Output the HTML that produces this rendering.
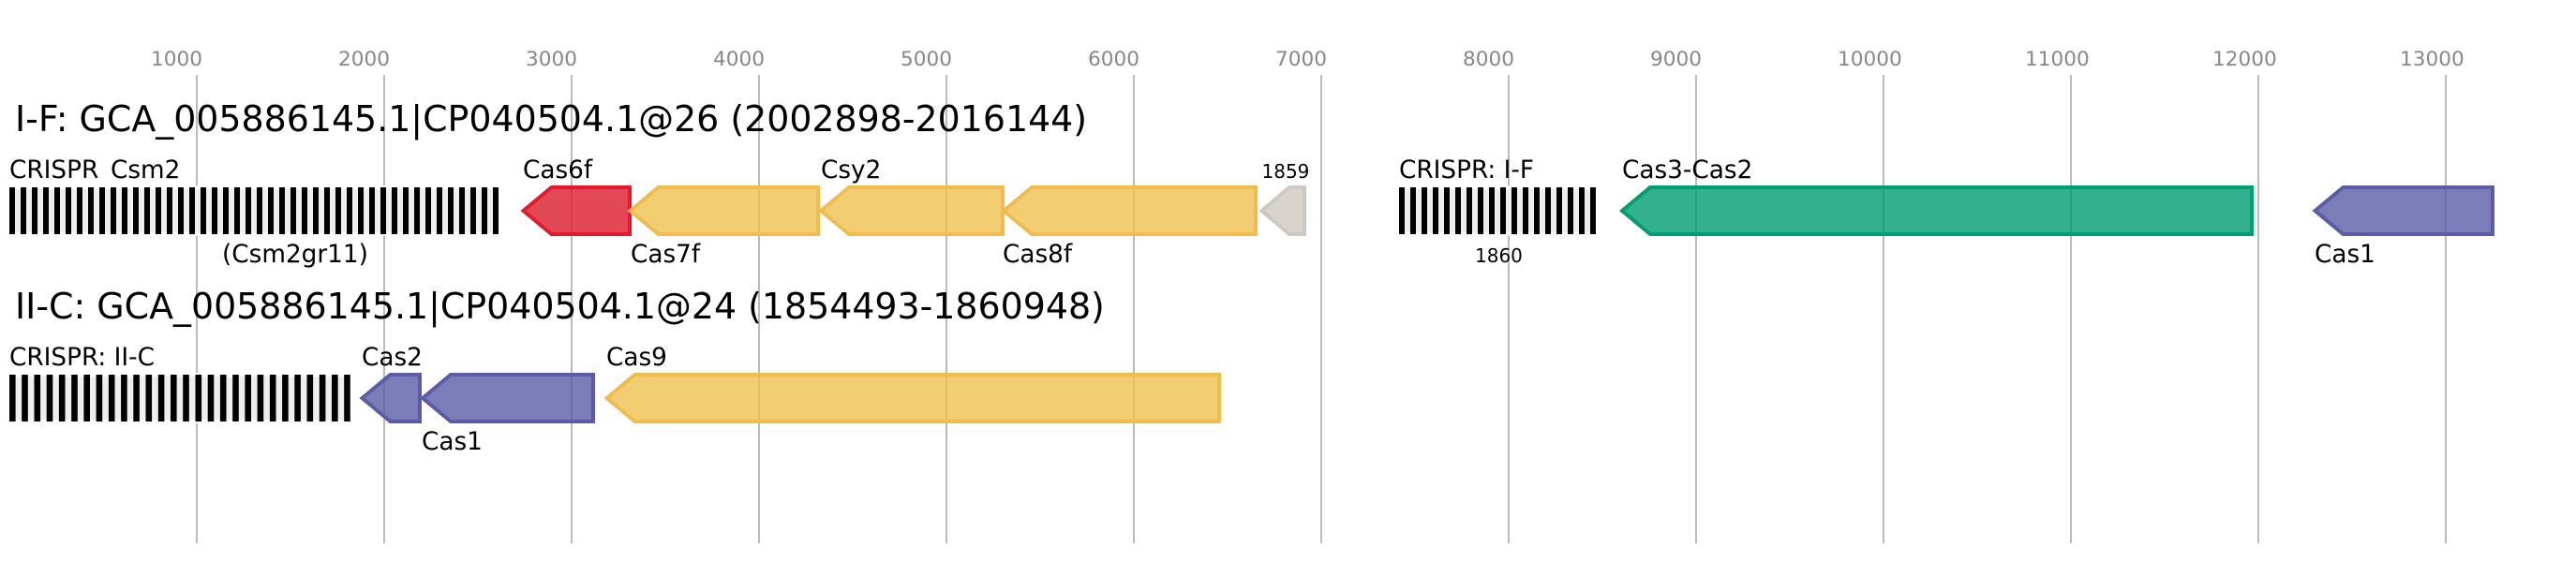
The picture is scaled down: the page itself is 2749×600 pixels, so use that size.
<!DOCTYPE html>
<html><head><meta charset="utf-8"><style>
html,body{margin:0;padding:0;background:#fff}
svg{display:block}
text{font-family:"DejaVu Sans",sans-serif;fill:#000;white-space:pre}
.t{font-size:37.9px}
.l{font-size:26.3px}
.s{font-size:20px}
.a{font-size:21.6px;fill:#888}
.g{stroke-width:4;fill-opacity:.8;stroke-miterlimit:10}
.r{fill:#dc1a2c;stroke:#e41a2c}
.y{fill:#f0c04f;stroke:#f0bd4d}
.n{fill:#009e73;stroke:#009e73}
.b{fill:#5b5ba8;stroke:#5b5ba8}
.e{fill:#d0c8c0;stroke:#d0c8c0}
</style></head><body>
<svg xmlns="http://www.w3.org/2000/svg" width="2749" height="600" viewBox="0 0 2749 600">
<rect width="2749" height="600" fill="#fff"/>
<g stroke="#bbb" stroke-width="2">
<line x1="210" y1="80" x2="210" y2="580"/><line x1="410" y1="80" x2="410" y2="580"/><line x1="610" y1="80" x2="610" y2="580"/><line x1="810" y1="80" x2="810" y2="580"/><line x1="1010" y1="80" x2="1010" y2="580"/><line x1="1210" y1="80" x2="1210" y2="580"/><line x1="1410" y1="80" x2="1410" y2="580"/><line x1="1610" y1="80" x2="1610" y2="580"/><line x1="1810" y1="80" x2="1810" y2="580"/><line x1="2010" y1="80" x2="2010" y2="580"/><line x1="2210" y1="80" x2="2210" y2="580"/><line x1="2410" y1="80" x2="2410" y2="580"/><line x1="2610" y1="80" x2="2610" y2="580"/>
</g>
<g class="a">
<text class="a" x="161" y="70">1000</text><text class="a" x="361" y="70">2000</text><text class="a" x="561" y="70">3000</text><text class="a" x="761" y="70">4000</text><text class="a" x="961" y="70">5000</text><text class="a" x="1161" y="70">6000</text><text class="a" x="1361" y="70">7000</text><text class="a" x="1561" y="70">8000</text><text class="a" x="1761" y="70">9000</text><text class="a" x="1961" y="70">10000</text><text class="a" x="2161" y="70">11000</text><text class="a" x="2361" y="70">12000</text><text class="a" x="2561" y="70">13000</text>
</g>
<text class="t" x="16" y="140">I-F: GCA_005886145.1|CP040504.1@26 (2002898-2016144)</text>
<text class="t" x="16" y="340">II-C: GCA_005886145.1|CP040504.1@24 (1854493-1860948)</text>

<rect x="10" y="200" width="522" height="50" fill="#eee" stroke="#fff" stroke-width="4"/>
<path fill="#000" d="M10 200h6v50h-6zM22 200h6v50h-6zM34 200h6v50h-6zM46 200h6v50h-6zM58 200h6v50h-6zM70 200h6v50h-6zM82 200h6v50h-6zM94 200h6v50h-6zM106 200h6v50h-6zM118 200h6v50h-6zM130 200h6v50h-6zM142 200h6v50h-6zM154 200h6v50h-6zM166 200h6v50h-6zM178 200h6v50h-6zM190 200h6v50h-6zM202 200h6v50h-6zM214 200h6v50h-6zM226 200h6v50h-6zM238 200h6v50h-6zM250 200h6v50h-6zM262 200h6v50h-6zM274 200h6v50h-6zM286 200h6v50h-6zM298 200h6v50h-6zM310 200h6v50h-6zM322 200h6v50h-6zM334 200h6v50h-6zM346 200h6v50h-6zM358 200h6v50h-6zM370 200h6v50h-6zM382 200h6v50h-6zM394 200h6v50h-6zM406 200h6v50h-6zM418 200h6v50h-6zM430 200h6v50h-6zM442 200h6v50h-6zM454 200h6v50h-6zM466 200h6v50h-6zM478 200h6v50h-6zM490 200h6v50h-6zM502 200h6v50h-6zM514 200h6v50h-6zM526 200h6v50h-6z"/>

<rect x="1493" y="200" width="210" height="50" fill="#eee" stroke="#fff" stroke-width="4"/>
<path fill="#000" d="M1493 200h6v50h-6zM1505 200h6v50h-6zM1517 200h6v50h-6zM1529 200h6v50h-6zM1541 200h6v50h-6zM1553 200h6v50h-6zM1565 200h6v50h-6zM1577 200h6v50h-6zM1589 200h6v50h-6zM1601 200h6v50h-6zM1613 200h6v50h-6zM1625 200h6v50h-6zM1637 200h6v50h-6zM1649 200h6v50h-6zM1661 200h6v50h-6zM1673 200h6v50h-6zM1685 200h6v50h-6zM1697 200h6v50h-6z"/>

<rect x="10" y="400" width="364" height="50" fill="#eee" stroke="#fff" stroke-width="4"/>
<path fill="#000" d="M10 400h6.6v50h-6.6zM23.2 400h6.6v50h-6.6zM36.5 400h6.6v50h-6.6zM49.7 400h6.6v50h-6.6zM62.9 400h6.6v50h-6.6zM76.2 400h6.6v50h-6.6zM89.4 400h6.6v50h-6.6zM102.6 400h6.6v50h-6.6zM115.9 400h6.6v50h-6.6zM129.1 400h6.6v50h-6.6zM142.3 400h6.6v50h-6.6zM155.5 400h6.6v50h-6.6zM168.8 400h6.6v50h-6.6zM182 400h6.6v50h-6.6zM195.2 400h6.6v50h-6.6zM208.5 400h6.6v50h-6.6zM221.7 400h6.6v50h-6.6zM234.9 400h6.6v50h-6.6zM248.2 400h6.6v50h-6.6zM261.4 400h6.6v50h-6.6zM274.6 400h6.6v50h-6.6zM287.9 400h6.6v50h-6.6zM301.1 400h6.6v50h-6.6zM314.3 400h6.6v50h-6.6zM327.5 400h6.6v50h-6.6zM340.8 400h6.6v50h-6.6zM354 400h6.6v50h-6.6zM367.2 400h6.6v50h-6.6z"/>

<polygon class="g r" points="558.5,225 588.5,200 672,200 672,250 588.5,250"/>
<polygon class="g y" points="672.5,225 702.5,200 873,200 873,250 702.5,250"/>
<polygon class="g y" points="876,225 906,200 1070,200 1070,250 906,250"/>
<polygon class="g y" points="1071,225 1101,200 1340,200 1340,250 1101,250"/>
<polygon class="g e" points="1346.5,225 1376,200 1392,200 1392,250 1376,250"/>
<polygon class="g n" points="1731,225 1761,200 2403,200 2403,250 1761,250"/>
<polygon class="g b" points="2470.5,225 2500.5,200 2660,200 2660,250 2500.5,250"/>
<polygon class="g b" points="386.5,425 416.5,400 448,400 448,450 416.5,450"/>
<polygon class="g b" points="451,425 481,400 633,400 633,450 481,450"/>
<polygon class="g y" points="647.5,425 677.5,400 1301,400 1301,450 677.5,450"/>

<text class="l" x="10" y="190">CRISPR</text>
<text class="l" x="118" y="190">Csm2</text>
<text class="l" x="237" y="280">(Csm2gr11)</text>
<text class="l" x="558" y="190">Cas6f</text>
<text class="l" x="673" y="280">Cas7f</text>
<text class="l" x="876" y="190">Csy2</text>
<text class="l" x="1070" y="280">Cas8f</text>
<text class="s" x="1346.5" y="190">1859</text>
<text class="l" x="1493" y="190">CRISPR: I-F</text>
<text class="s" x="1574" y="280">1860</text>
<text class="l" x="1731" y="190">Cas3-Cas2</text>
<text class="l" x="2470" y="280">Cas1</text>
<text class="l" x="10" y="390">CRISPR: II-C</text>
<text class="l" x="386" y="390">Cas2</text>
<text class="l" x="450" y="480">Cas1</text>
<text class="l" x="647" y="390">Cas9</text>
</svg>
</body></html>
